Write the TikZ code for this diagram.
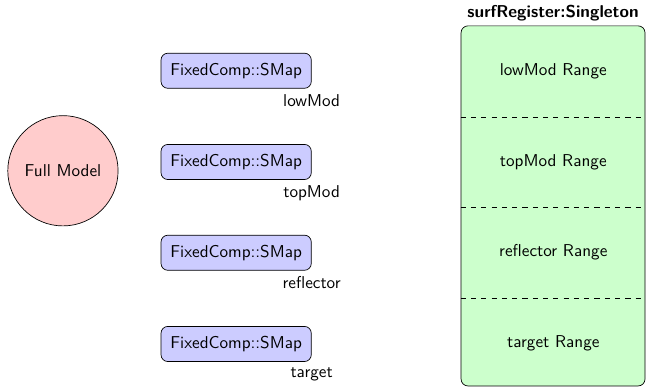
\documentclass[tikz,border=0pt]{standalone}
\usepackage{tikz}
\usetikzlibrary{
  positioning,
  shapes.misc, shapes.geometric
}
\tikzset{
  model/.style = {circle, draw=black, fill=red!20,
      minimum size=#1, inner sep=0pt},
  model/.default = 2.26cm, % diameter of the circle
  smap/.style = {rectangle, rounded corners, draw=black, fill=blue!20,
      minimum width=3.08cm, minimum height=0.72cm, inner sep=2pt},
  register/.style = {rectangle, rounded corners, draw=black, fill=green!20,
      minimum width=3.77cm, minimum height=7.38cm},
  sep/.style = {dashed},
}

\begin{document}
\begin{tikzpicture}[font=\sffamily]
  \useasboundingbox (0,0) rectangle (13.24,7.93);

  \node[model] (full) at (1.29,4.43) {Full Model};

  \node[smap] (low) at (4.84,6.48) {FixedComp::SMap};
  \node[smap] (top) at (4.84,4.61) {FixedComp::SMap};
  \node[smap] (refl) at (4.84,2.75) {FixedComp::SMap};
  \node[smap] (targ) at (4.84,0.88) {FixedComp::SMap};

  \node[below] (lowlab) at (low.south east) {lowMod};
  \node[below] (toplab) at (top.south east) {topMod};
  \node[below] (refllab) at (refl.south east) {reflector};
  \node[below] (targlab) at (targ.south east) {target};

  \node[register] (reg) at (11.335,3.71) {};
  \node[above=-1pt of reg.north, font=\sffamily\bfseries] (regname) {surfRegister:Singleton};

  \draw[sep] (reg.west |- 0,5.535) -- (reg.east |- 0,5.535);
  \draw[sep] (reg.west |- 0,3.69) -- (reg.east |- 0,3.69);
  \draw[sep] (reg.west |- 0,1.82) -- (reg.east |- 0,1.82);

  \node (lowrange) at (11.34,6.46) {lowMod Range};
  \node (toprange) at (11.34,4.61) {topMod Range};
  \node (reflrange) at (11.34,2.77) {reflector Range};
  \node (targrange) at (11.34,0.90) {target Range};
\end{tikzpicture}
\end{document}
